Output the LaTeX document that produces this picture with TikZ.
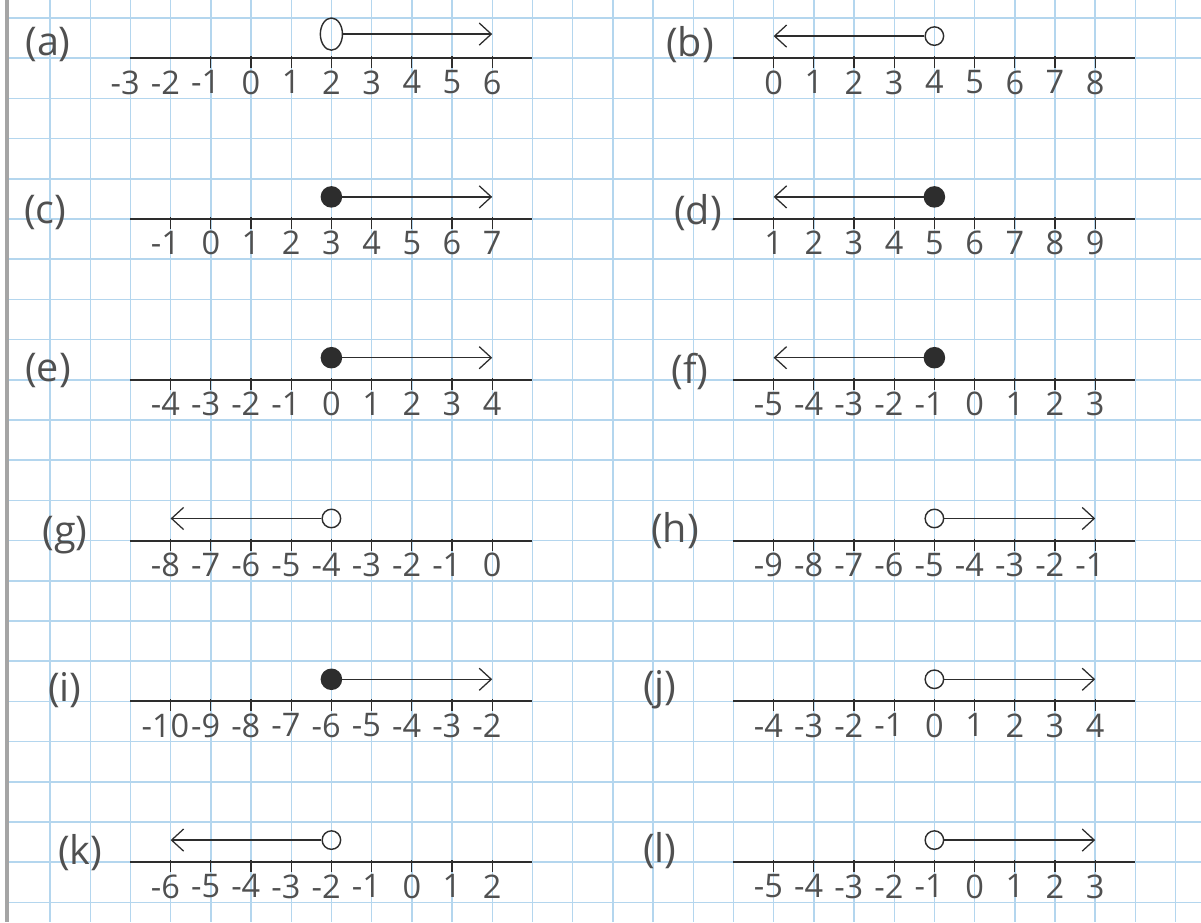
\documentclass[tikz,border=0pt]{standalone}
\usepackage{fontspec}
\setmainfont{Open Sans}
\usepackage{xcolor}
\usetikzlibrary{arrows.meta,positioning,shapes.geometric}
\definecolor{gridblue}{RGB}{180,214,238}
\definecolor{ink}{RGB}{45,45,45}
\definecolor{pencil}{RGB}{80,80,80}
\definecolor{pageedge}{RGB}{165,165,165}

\begin{document}
\begin{tikzpicture}[>={Straight Barb[length=3mm,width=5.5mm]},
  ax/.style={draw=ink,line width=1.5pt},
  tk/.style={draw=ink,line width=0.9pt},
  num/.style={anchor=north,inner sep=0pt,text=pencil,font=\fontsize{23}{23}\selectfont},
  tag/.style={text=pencil,font=\fontsize{28}{28}\selectfont},
  hole/.style={draw=ink,line width=1pt,circle,minimum size=4.6mm,inner sep=0pt},
  holebig/.style={draw=ink,line width=1pt,ellipse,minimum width=5.5mm,minimum height=8mm,inner sep=0pt},
  dot/.style={draw=ink,fill=ink,line width=1pt,circle,minimum size=5mm,inner sep=0pt},
  ray/.style={draw=ink,line width=0.9pt,->}]
  \useasboundingbox[fill=white] (-1.244,0.448) rectangle (28.632,-22.488);
  % graph paper
  \foreach \k in {0,...,28} \draw[gridblue,line width=1pt] (\k,0.448) -- (\k,-22.488);
  \foreach \k in {0,...,22} \draw[gridblue,line width=1pt] (-1.07,-\k) -- (28.632,-\k);
  \draw[pageedge,line width=2.5pt] (-1.07,0.448) -- (-1.07,-22.488);

  % (a) has two extra labels on the left
  \coordinate (a0) at (2,-1);
  \coordinate (a1) at (12,-1);
  \draw[ax] (a0) -- (a1);
  \foreach \k in {4,...,11} \draw[tk] (\k,-0.95) -- (\k,-1.25);
  \foreach \k in {2,...,11}{
    \pgfmathtruncatemacro\v{\k-5}
    \pgfmathtruncatemacro\av{abs(\v)}
    \node[num] (a-\k) at (\k,-1.3) {\ifnum\v<0 \llap{-}\fi\av};
  }
  \node[holebig] (a-pt) at (7,-0.4) {};
  \coordinate (a-end) at (11,-0.4);
  \draw[ray] (a-pt) -- (a-end);

  % the other eleven lines
  \foreach \r/\xa/\y/\s/\pt/\e in {b/17/-1/0/hole/18, c/2/-5/-1/dot/11, d/17/-5/1/dot/18,
      e/2/-9/-4/dot/11, f/17/-9/-5/dot/18, g/2/-13/-8/hole/3, h/17/-13/-9/hole/26,
      i/2/-17/-10/dot/11, j/17/-17/-4/hole/26, k/2/-21/-6/hole/3, l/17/-21/-5/hole/26}{
    \coordinate (\r0) at (\xa,\y);
    \coordinate (\r1) at (\xa+10,\y);
    \draw[ax] (\r0) -- (\r1);
    \foreach \i in {1,...,9}{
      \pgfmathtruncatemacro\v{\s+\i-1}
      \pgfmathtruncatemacro\av{abs(\v)}
      \draw[tk] (\xa+\i,\y+0.05) -- (\xa+\i,\y-0.25);
      \node[num] (\r-\i) at (\xa+\i,\y-0.3) {\ifnum\v<0 \llap{-}\fi\av};
    }
    \node[\pt] (\r-pt) at (\xa+5,\y+0.55) {};
    \coordinate (\r-end) at (\e,\y+0.55);
    \draw[ray] (\r-pt) -- (\r-end);
  }

  % part labels
  \node[tag] (tag-a) at (-0.05,-0.67) {(a)};
  \node[tag] (tag-b) at (15.92,-0.67) {(b)};
  \node[tag] (tag-c) at (-0.12,-4.83) {(c)};
  \node[tag] (tag-d) at (16.12,-4.83) {(d)};
  \node[tag] (tag-e) at (-0.05,-8.76) {(e)};
  \node[tag] (tag-f) at (15.92,-8.8) {(f)};
  \node[tag] (tag-g) at (0.37,-12.86) {(g)};
  \node[tag] (tag-h) at (15.55,-12.74) {(h)};
  \node[tag] (tag-i) at (0.37,-16.72) {(i)};
  \node[tag] (tag-j) at (15.17,-16.72) {(j)};
  \node[tag] (tag-k) at (0.75,-20.75) {(k)};
  \node[tag] (tag-l) at (15.17,-20.7) {(l)};
\end{tikzpicture}
\end{document}
